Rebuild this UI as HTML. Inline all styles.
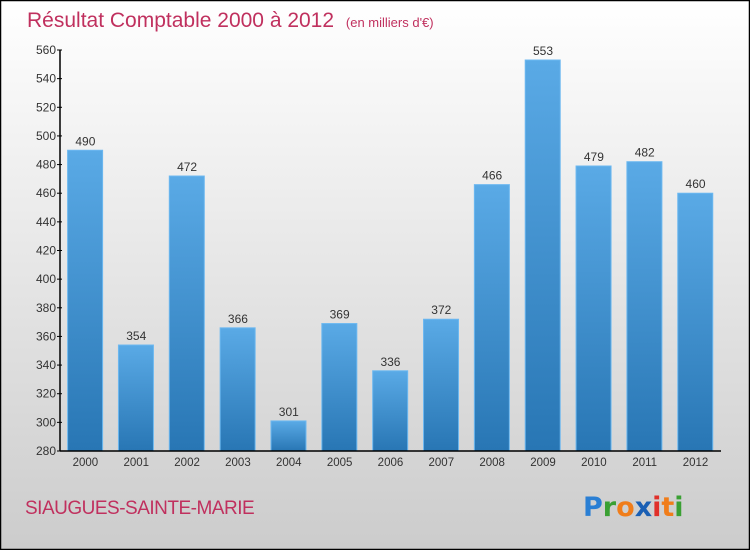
<!DOCTYPE html>
<html><head><meta charset="utf-8"><style>
body{margin:0;width:750px;height:550px;overflow:hidden}
svg{display:block;font-family:"Liberation Sans",sans-serif}
</style></head><body>
<svg width="750" height="550" viewBox="0 0 750 550">
<defs>
<linearGradient id="bg" x1="0" y1="0" x2="0" y2="1"><stop offset="0" stop-color="#ffffff"/><stop offset="1" stop-color="#cccccc"/></linearGradient>
<linearGradient id="bar" x1="0" y1="0" x2="0" y2="1"><stop offset="0" stop-color="#5aaae6"/><stop offset="1" stop-color="#2876b4"/></linearGradient>
</defs>
<rect x="0.5" y="0.5" width="749" height="549" fill="url(#bg)" stroke="#000" stroke-width="1.5"/>
<text x="27" y="27" font-size="21" fill="#c0305e">Résultat Comptable 2000 à 2012 <tspan font-size="13" dx="6">(en milliers d'€)</tspan></text>
<g id="plot"></g>
<text x="25" y="514" font-size="19" fill="#c0305e" letter-spacing="-0.5">SIAUGUES-SAINTE-MARIE</text>
<text x="583" y="516" font-size="27" font-weight="bold" font-family="'DejaVu Sans',sans-serif"><tspan fill="#2a7fd4">P</tspan><tspan fill="#3aa033">r</tspan><tspan fill="#f07d1a">o</tspan><tspan fill="#1a5fb4">x</tspan><tspan fill="#e0302a">i</tspan><tspan fill="#f07d1a">t</tspan><tspan fill="#3aa033">i</tspan></text>
</svg>
<script>
const categories=["2000","2001","2002","2003","2004","2005","2006","2007","2008","2009","2010","2011","2012"];
const values=[490,354,472,366,301,369,336,372,466,553,479,482,460];
const ticks=[280,300,320,340,360,380,400,420,440,460,480,500,520,540,560];
const NS="http://www.w3.org/2000/svg";
const g=document.getElementById('plot');
const x0=60,x1=721,y0=451,y1=50,ymin=280,ymax=560;
const band=(x1-x0)/categories.length;
const y=v=>y0-(v-ymin)/(ymax-ymin)*(y0-y1);
const xb=i=>x0+i*band;
function el(t,a,txt){const e=document.createElementNS(NS,t);for(const k in a)e.setAttribute(k,a[k]);if(txt!=null)e.textContent=txt;g.appendChild(e);return e;}
values.forEach((v,i)=>{
 const r=el('rect',{x:xb(i)+7.6,y:y(v),width:35,height:y0-y(v),fill:'url(#bar)',stroke:'#6cb8f0','stroke-width':1});
 
 
 const t=el('text',{x:xb(i)+25.4,y:y(v)-5,'font-size':12,'text-anchor':'middle',fill:'#333'},String(v));
 
 
 const c=el('text',{x:xb(i)+25.4,y:466,'font-size':11.5,'text-anchor':'middle',fill:'#333'},categories[i]);
 
 
});
ticks.forEach(v=>{
 const l=el('line',{x1:x0-3,x2:x0+2,y1:y(v),y2:y(v),stroke:'#000'});
 
 
 const t=el('text',{x:x0-4,y:y(v)+4,'font-size':12,'text-anchor':'end',fill:'#333'},String(v));
 
 
});
const ya=el('line',{x1:x0,x2:x0,y1:y1,y2:y0,stroke:'#000','stroke-width':1.5});


const xa=el('line',{x1:x0,x2:x1,y1:y0,y2:y0,stroke:'#000','stroke-width':1.5});


</script>
</body></html>
